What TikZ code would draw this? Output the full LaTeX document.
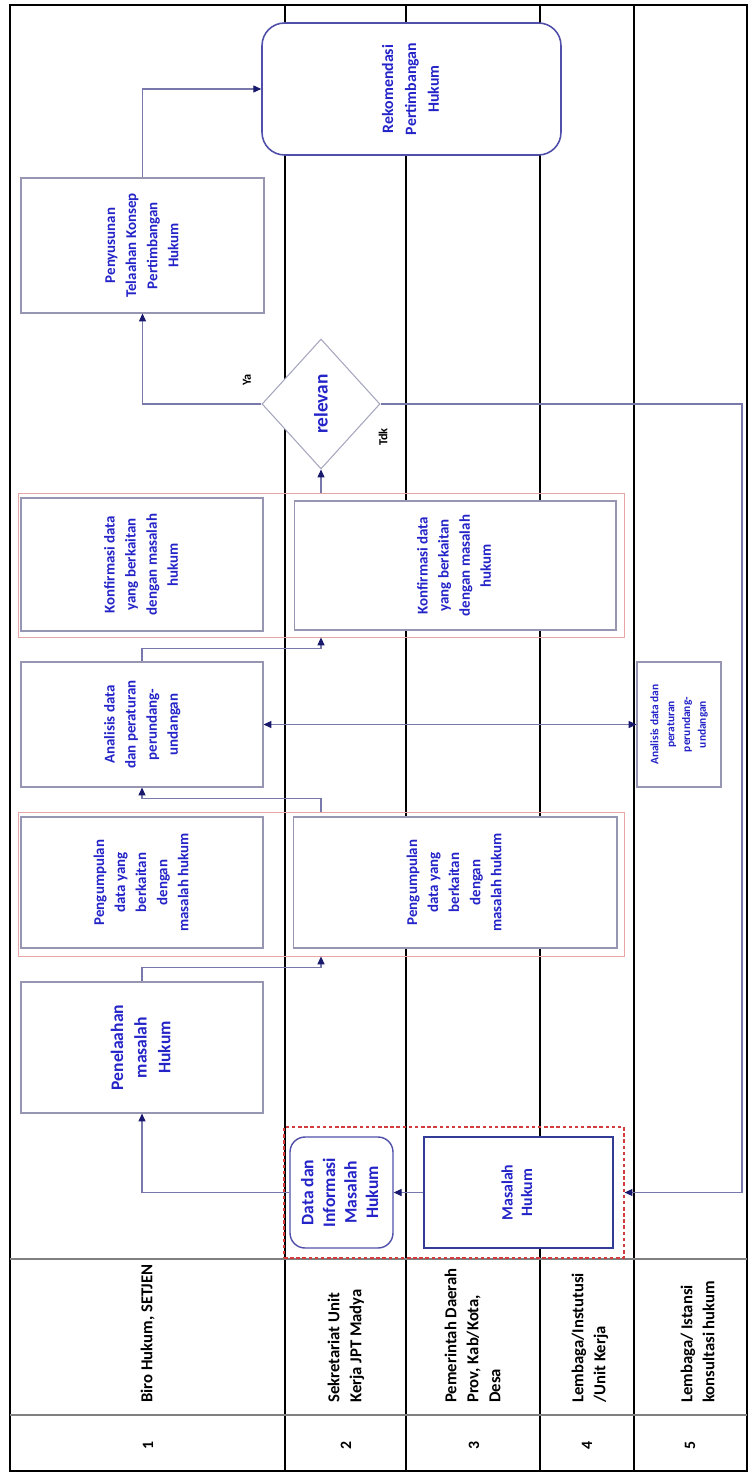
\documentclass[tikz,border=0pt]{standalone}
\usepackage{fontspec}
\setmainfont{Carlito}
\usepackage{tikz}
\usetikzlibrary{shapes.geometric, arrows.meta, positioning, calc}
\usepackage{xcolor}
\usepackage{graphicx}
\definecolor{boxgray}{RGB}{150,150,178}
\definecolor{txtblue}{RGB}{35,35,200}
\definecolor{linkgray}{RGB}{120,120,170}
\definecolor{tipnavy}{RGB}{25,25,110}
\definecolor{grouppink}{RGB}{232,165,165}
\definecolor{dashred}{RGB}{210,60,60}
\definecolor{rekomblue}{RGB}{80,80,170}
\definecolor{masalahblue}{RGB}{50,60,150}
\newcommand{\vlabel}[1]{\rotatebox{90}{\begin{tabular}{@{}c@{}}#1\end{tabular}}}
\newcommand{\vhead}[1]{\rotatebox{90}{\begin{tabular}{@{}l@{}}#1\end{tabular}}}

\begin{document}
\begin{tikzpicture}[x=0.02cm, y=-0.02cm,
        proc/.style={rectangle, draw=boxgray, fill=white, line width=0.6pt, inner sep=0pt, text=txtblue, font=\fontsize{8.5}{12}\selectfont\bfseries},
        grp/.style={rectangle, draw=grouppink, line width=0.5pt, inner sep=0pt},
        flow/.style={draw=linkgray, line width=0.6pt, -{Triangle[length=4.5pt, width=4pt, color=tipnavy]}},
        flowboth/.style={draw=linkgray, line width=0.6pt, {Triangle[length=4.5pt, width=4pt, color=tipnavy]}-{Triangle[length=4.5pt, width=4pt, color=tipnavy]}},
        lanehead/.style={anchor=south, inner sep=0pt, font=\fontsize{9.5}{12.5}\selectfont\bfseries},
        lanenum/.style={inner sep=0pt, font=\fontsize{9}{11}\selectfont\bfseries},
        branch/.style={inner sep=0pt, font=\fontsize{7}{8}\selectfont\bfseries}
    ]
        \useasboundingbox (0,0) rectangle (751,1476);
        \fill[white] (0,0) rectangle (751,1476);

        % swimlanes
        \draw[line width=0.9pt] (10,5) rectangle (747,1471);
        \foreach \lx in {285,406,540,634}
            \draw[line width=0.8pt] (\lx,5) -- (\lx,1471);
        \draw[gray, line width=1.2pt] (10,1259) -- (747,1259);
        \draw[gray, line width=1pt] (10,1415) -- (747,1415);

        \node[lanehead] (h1) at (148,1403) {\vhead{Biro Hukum, SETJEN}};
        \node[lanehead] (h2) at (346,1403) {\vhead{Sekretariat Unit\\Kerja JPT Madya}};
        \node[lanehead] (h3) at (474,1403) {\vhead{Pemerintah Daerah\\Prov, Kab/Kota,\\Desa}};
        \node[lanehead] (h4) at (590,1403) {\vhead{Lembaga/Instutusi\\/Unit Kerja}};
        \node[lanehead] (h5) at (699,1403) {\vhead{Lembaga/ Istansi\\konsultasi hukum}};
        \node[lanenum] (n1) at (148,1445) {\rotatebox{90}{1}};
        \node[lanenum] (n2) at (346,1445) {\rotatebox{90}{2}};
        \node[lanenum] (n3) at (474,1445) {\rotatebox{90}{3}};
        \node[lanenum] (n4) at (587,1445) {\rotatebox{90}{4}};
        \node[lanenum] (n5) at (690,1445) {\rotatebox{90}{5}};

        % groups
        \node[grp, minimum width=12.12cm, minimum height=2.88cm] (kgroup) at (321,565) {};
        \node[grp, minimum width=12.12cm, minimum height=2.88cm] (pgroup) at (321,884) {};
        \node[rectangle, draw=dashred, dash pattern=on 2pt off 1.5pt, line width=0.7pt, inner sep=0pt, minimum width=6.8cm, minimum height=2.62cm] (mgroup) at (454,1192.5) {};

        % steps
        \node[proc, draw=rekomblue, line width=0.9pt, rounded corners=0.45cm, minimum width=5.98cm, minimum height=2.64cm, font=\fontsize{9}{13}\selectfont\bfseries] (rekom) at (411.5,89) {\vlabel{Rekomendasi\\Pertimbangan\\Hukum}};
        \node[proc, minimum width=4.86cm, minimum height=2.7cm] (penyusunan) at (142.5,245.5) {\vlabel{Penyusunan\\Telaahan Konsep\\Pertimbangan\\Hukum}};
        \node[shape=diamond, draw=boxgray!85, fill=white, line width=0.6pt, inner sep=0pt, minimum width=2.36cm, minimum height=2.6cm, text=txtblue, font=\fontsize{11}{13}\selectfont\bfseries] (relevan) at (321,404) {\rotatebox{90}{relevan}};
        \node[proc, minimum width=4.84cm, minimum height=2.66cm] (konf1) at (142,564.5) {\vlabel{Konfirmasi data\\yang berkaitan\\dengan masalah\\hukum}};
        \node[proc, minimum width=6.44cm, minimum height=2.58cm] (konf2) at (455,565.5) {\vlabel{Konfirmasi data\\yang berkaitan\\dengan masalah\\hukum}};
        \node[proc, minimum width=4.84cm, minimum height=2.5cm] (analisis) at (142,724.5) {\vlabel{Analisis data\\dan peraturan\\perundang-\\undangan}};
        \node[proc, minimum width=1.68cm, minimum height=2.5cm, font=\fontsize{6.5}{9}\selectfont\bfseries] (analisis2) at (679,724.5) {\vlabel{Analisis data dan\\peraturan\\perundang-\\undangan}};
        \node[proc, minimum width=4.84cm, minimum height=2.62cm] (peng1) at (142,882.5) {\vlabel{Pengumpulan\\data yang\\berkaitan\\dengan\\masalah hukum}};
        \node[proc, minimum width=6.48cm, minimum height=2.62cm] (peng2) at (455,882.5) {\vlabel{Pengumpulan\\data yang\\berkaitan\\dengan\\masalah hukum}};
        \node[proc, minimum width=4.84cm, minimum height=2.62cm, font=\fontsize{10}{13.5}\selectfont\bfseries] (penelaahan) at (142,1047.5) {\vlabel{Penelaahan\\masalah\\Hukum}};
        \node[proc, draw=rekomblue, line width=0.8pt, rounded corners=0.3cm, minimum width=2.06cm, minimum height=2.22cm, font=\fontsize{10}{12.3}\selectfont\bfseries] (datainfo) at (341.5,1192.5) {\vlabel{Data dan\\Informasi\\Masalah\\Hukum}};
        \node[proc, draw=masalahblue, line width=0.9pt, minimum width=3.78cm, minimum height=2.22cm, font=\fontsize{9}{11}\selectfont\bfseries] (masalah) at (518.5,1192.5) {\vlabel{Masalah\\Hukum}};

        % connectors
        \coordinate (tdkturn) at (742,407);
        \draw[flow] (masalah.west) -- (datainfo.east);
        \draw[flow] (datainfo.west) -| (penelaahan.south);
        \draw[flow] (penelaahan.north) -- ++(0,-14) -| (pgroup.south);
        \draw[flow] (pgroup.north) -- ++(0,-13) -| (analisis.south);
        \draw[flowboth] (analisis.east) -- (analisis2.west);
        \draw[flow] (analisis.north) -- ++(0,-13) -| (kgroup.south);
        \draw[flow] (kgroup.north) -- (relevan.south);
        \draw[flow] (relevan.west) -| (penyusunan.south);
        \draw[flow] (relevan.east) -- (relevan.east -| tdkturn) |- (mgroup.east);
        \draw[flow] (penyusunan.north) |- (rekom.west);
        \node[branch] (ya) at (247,380) {\rotatebox{90}{Ya}};
        \node[branch] (tdk) at (383,437) {\rotatebox{90}{Tdk}};
    \end{tikzpicture}
\end{document}
